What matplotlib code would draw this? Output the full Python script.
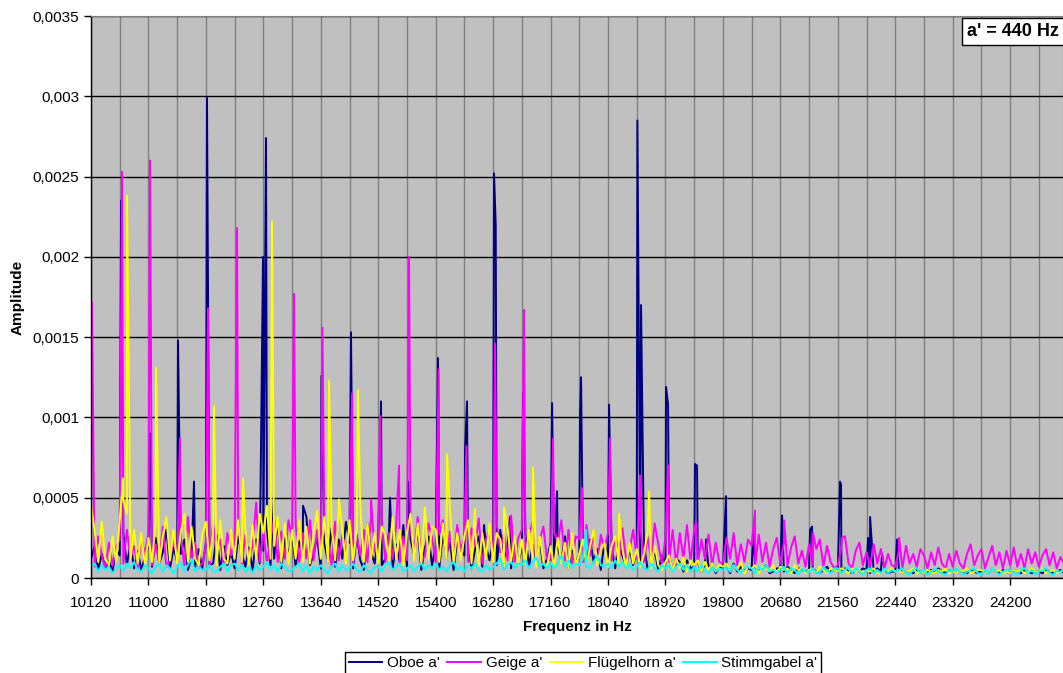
import matplotlib.pyplot as plt
import numpy as np

plt.rcParams['font.family'] = ['Liberation Sans', 'DejaVu Sans']

# spectrum samples: 55 Hz grid starting at 10120 Hz, amplitudes in 1e-5
f_start = 10120
f_step = 55

oboe_noise = [
    12, 20, 5, 15, 6, 11, 4, 18,    14, 28, 8, 22, 6, 17, 5, 13,
    20, 7, 25, 9, 16, 30, 6, 19,    10, 15, 24, 5, 13, 7, 18, 6,
    22, 8, 9, 27, 5, 20, 8, 16,     6, 26, 15, 7, 19, 5, 24, 9,
    17, 30, 8, 12, 36, 6, 25, 14,   28, 7, 23, 12, 38, 8, 15, 26,
    6, 22, 10, 31, 7, 24, 12, 35,   22, 6, 27, 11, 5, 34, 16, 9,
    25, 8, 12, 29, 6, 21, 10, 33,   7, 24, 14, 30, 5, 19, 26, 8,
    20, 6, 28, 15, 22, 5, 24, 17,   14, 21, 6, 18, 26, 7, 20, 11,
    23, 8, 30, 12, 19, 6, 25, 10,   18, 27, 7, 21, 11, 24, 6, 12,
    22, 8, 19, 10, 26, 6, 17, 9,    15, 20, 7, 24, 10, 18, 5, 22,
    12, 19, 6, 23, 14, 7, 18, 8,    16, 10, 21, 6, 8, 17, 5, 14,
    9, 14, 5, 12, 10, 4, 11, 6,     7, 10, 4, 8, 6, 9, 3, 7,
    6, 8, 3, 9, 4, 7, 5, 6,         5, 7, 4, 6, 8, 3, 4, 6,
    6, 4, 7, 5, 3, 6, 5, 4,         5, 6, 4, 3, 5, 7, 4, 5,
    4, 5, 6, 4, 3, 5, 4, 6,         5, 3, 4, 6, 4, 5, 3, 4,
    4, 6, 3, 5, 4, 3, 5, 4,         3, 4, 5, 3, 6, 4, 3, 5,
    4, 3, 5, 4, 3, 5, 4, 3,         5, 4, 3, 6, 4, 3, 5, 4,
    3, 5, 4, 3, 5, 4, 3, 4,         4, 3, 5, 4, 3, 4, 5, 3,
]
geige_noise = [
    18, 7, 26, 14, 6, 22, 8, 19,    24, 9, 30, 12, 20, 6, 25, 15,
    28, 8, 21, 10, 32, 7, 11, 24,   13, 26, 8, 38, 11, 22, 6, 9,
    20, 7, 34, 16, 24, 8, 28, 14,   22, 38, 9, 27, 12, 20, 47, 10,
    30, 9, 24, 37, 10, 29, 12, 36,  25, 33, 10, 28, 12, 36, 11, 30,
    12, 29, 24, 8, 35, 11, 27, 15,  32, 9, 26, 14, 30, 10, 38, 16,
    24, 35, 10, 28, 12, 33, 9, 26,  11, 30, 16, 38, 10, 14, 34, 25,
    10, 27, 36, 12, 29, 11, 33, 17, 26, 10, 31, 20, 37, 9, 24, 30,
    12, 34, 16, 28, 11, 39, 10, 25, 30, 12, 27, 35, 10, 24, 32, 12,
    10, 28, 22, 36, 11, 30, 9, 26,  24, 10, 33, 14, 29, 9, 27, 18,
    28, 11, 25, 9, 31, 12, 17, 30,  12, 32, 10, 26, 11, 34, 21, 9,
    25, 10, 30, 8, 28, 12, 33, 10,  30, 9, 24, 12, 27, 8, 22, 10,
    9, 25, 12, 28, 8, 21, 10, 24,   20, 8, 27, 10, 22, 7, 18, 25,
    9, 22, 8, 19, 26, 9, 17, 7,     21, 8, 18, 24, 7, 20, 10, 6,
    8, 19, 26, 9, 6, 17, 22, 8,     16, 7, 21, 9, 18, 6, 15, 8,
    7, 17, 6, 20, 9, 15, 7, 18,     14, 6, 16, 8, 19, 9, 6, 15,
    7, 17, 9, 6, 15, 21, 8, 14,     18, 6, 13, 20, 8, 16, 6, 17,
    8, 19, 7, 15, 6, 18, 9, 16,     7, 14, 18, 8, 16, 6, 13, 9,
]
horn_noise = [
    45, 30, 10, 35, 12, 8, 26, 10,  36, 48, 40, 12, 30, 9, 28, 8,
    25, 10, 34, 9, 26, 38, 11, 30,  9, 28, 40, 10, 32, 12, 8, 27,
    35, 11, 28, 8, 36, 12, 9, 30,   12, 36, 10, 30, 8, 33, 12, 40,
    28, 45, 12, 20, 38, 10, 34, 9,  30, 12, 36, 10, 32, 9, 28, 42,
    12, 38, 10, 32, 11, 42, 30, 9,  36, 11, 30, 44, 10, 34, 12, 28,
    9, 32, 26, 10, 38, 12, 30, 8,   28, 40, 11, 34, 9, 44, 12, 32,
    30, 10, 34, 12, 42, 9, 28, 11,  26, 36, 9, 30, 8, 28, 12, 34,
    10, 28, 24, 7, 32, 10, 26, 8,   24, 9, 30, 12, 7, 26, 10, 6,
    20, 7, 25, 9, 22, 6, 28, 8,     15, 24, 7, 20, 30, 8, 18, 22,
    7, 20, 26, 8, 18, 6, 22, 9,     18, 7, 15, 28, 6, 20, 8, 5,
    10, 14, 5, 12, 6, 13, 4, 11,    8, 11, 4, 10, 5, 9, 4, 8,
    7, 9, 4, 8, 5, 10, 3, 7,        6, 8, 3, 7, 6, 4, 8, 3,
    7, 5, 6, 3, 8, 5, 6, 3,         5, 6, 3, 7, 5, 3, 6, 5,
    4, 6, 5, 3, 6, 4, 5, 3,         5, 4, 6, 3, 3, 5, 4, 6,
    4, 5, 3, 5, 4, 6, 3, 4,         3, 5, 4, 3, 5, 4, 6, 3,
    4, 3, 5, 4, 6, 3, 4, 5,         5, 4, 3, 6, 4, 5, 3, 4,
    3, 5, 4, 5, 3, 4, 6, 4,         4, 6, 3, 4, 5, 3, 4, 5,
]
gabel_noise = [
    7, 9, 4, 8, 5, 7, 3, 6,     8, 4, 9, 6, 10, 5, 4, 8,
    6, 3, 7, 9, 4, 8, 6, 3,     7, 10, 4, 8, 12, 4, 7, 5,
    5, 8, 4, 4, 7, 9, 4, 8,     9, 5, 8, 4, 7, 3, 8, 5,
    7, 10, 5, 8, 4, 9, 7, 4,    5, 7, 9, 4, 8, 3, 7, 5,
    8, 5, 3, 7, 9, 4, 8, 5,     6, 9, 5, 4, 8, 5, 3, 7,
    7, 4, 8, 10, 5, 7, 9, 4,    6, 8, 4, 7, 9, 5, 8, 6,
    9, 5, 7, 4, 8, 10, 5, 7,    4, 8, 6, 9, 5, 4, 8, 5,
    7, 9, 12, 5, 8, 10, 6, 9,   8, 11, 6, 10, 13, 7, 9, 6,
    10, 6, 9, 14, 7, 11, 6, 9,  8, 12, 7, 6, 10, 14, 8, 7,
    9, 6, 11, 7, 10, 6, 9, 5,   7, 10, 6, 5, 9, 6, 4, 8,
    6, 8, 4, 7, 9, 5, 8, 4,     7, 4, 8, 5, 3, 7, 4, 6,
    5, 7, 4, 8, 5, 3, 6, 7,     6, 3, 7, 5, 8, 4, 5, 3,
    5, 7, 3, 6, 5, 2, 6, 4,     4, 6, 3, 3, 7, 4, 3, 6,
    6, 3, 5, 7, 3, 6, 4, 2,     5, 6, 3, 5, 3, 6, 3, 5,
    4, 5, 6, 3, 2, 5, 6, 3,     5, 2, 4, 6, 4, 3, 2, 5,
    4, 6, 4, 2, 4, 5, 6, 3,     2, 5, 3, 6, 4, 2, 4, 5,
    5, 3, 2, 5, 6, 3, 5, 2,     4, 5, 6, 3, 2, 5, 3, 6,
]

# harmonic peaks (Hz, amplitude in 1e-5)
oboe_peak_hz = [10580, 11024, 11453, 11698, 11897, 12755, 12801, 12924, 13368, 13650,
                14103, 14563, 14701, 14976, 15436, 15850, 15880, 16141, 16294, 16320,
                16539, 16738, 17183, 17259, 17611, 17627, 18056, 18490, 18546, 18929,
                18960, 19373, 19404, 19542, 19848, 20262, 20706, 21135, 21166, 21595,
                21610, 22024, 22055, 22238, 22468]
oboe_peak_amp = [235, 90, 148, 60, 299, 200, 274, 50, 45, 126,
                 153, 110, 50, 60, 137, 80, 110, 33, 252, 220,
                 38, 115, 109, 54, 100, 125, 108, 285, 170, 119,
                 108, 71, 70, 24, 51, 29, 39, 30, 32, 60,
                 58, 25, 38, 15, 24]
geige_peak_hz = [10135, 10595, 11024, 11483, 11912, 12357, 13230, 13665, 14119, 14410,
                 14547, 14839, 14992, 15445, 15870, 16309, 16754, 17198, 17642, 18071,
                 18531, 18960, 19389, 20292, 20737, 21181, 21625, 22499]
geige_peak_amp = [172, 253, 260, 87, 168, 218, 177, 156, 115, 49,
                  101, 70, 200, 130, 82, 146, 167, 87, 56, 87,
                  64, 70, 35, 42, 36, 28, 25, 25]
horn_peak_hz = [10610, 10672, 11116, 12004, 12449, 12893, 13766, 13919, 14210, 15574,
                16003, 16447, 16891, 18209, 18669]
horn_peak_amp = [62, 238, 131, 107, 62, 222, 123, 49, 117, 77,
                 43, 44, 69, 40, 54]
gabel_peak_hz = [17703]
gabel_peak_amp = [30]

series_names = ["Oboe a'", "Geige a'", "Flügelhorn a'", "Stimmgabel a'"]
series_colors = ["#000080", "#FF00FF", "#FFFF00", "#00FFFF"]

y_ticks = [0, 0.0005, 0.001, 0.0015, 0.002, 0.0025, 0.003, 0.0035]
y_tick_labels = ["0", "0,0005", "0,001", "0,0015", "0,002", "0,0025", "0,003", "0,0035"]
x_tick_labels = [10120, 11000, 11880, 12760, 13640, 14520, 15400, 16280, 17160,
                 18040, 18920, 19800, 20680, 21560, 22440, 23320, 24200]


def spectrum(noise, peak_hz, peak_amp):
    hz = np.concatenate([f_start + f_step * np.arange(len(noise)), peak_hz])
    amp = np.concatenate([noise, peak_amp]) * 1e-5
    order = np.argsort(hz, kind="stable")
    return hz[order], amp[order]


data = [
    spectrum(oboe_noise, oboe_peak_hz, oboe_peak_amp),
    spectrum(geige_noise, geige_peak_hz, geige_peak_amp),
    spectrum(horn_noise, horn_peak_hz, horn_peak_amp),
    spectrum(gabel_noise, gabel_peak_hz, gabel_peak_amp),
]

W, H = 1063, 673
fig = plt.figure(figsize=(W / 100, H / 100), dpi=100)
ax = fig.add_axes([91 / W, 1 - 578 / H, (1063 - 91) / W, (578 - 16) / H])
ax.set_facecolor("#C0C0C0")

for (hz, amp), name, col in zip(data, series_names, series_colors):
    ax.plot(hz, amp, color=col, lw=1.4, label=name)

ax.set_xlim(10120, 25010)
ax.set_ylim(0, 0.0035)
ax.set_yticks(y_ticks)
ax.set_yticklabels(y_tick_labels)
ax.set_xticks(x_tick_labels)
ax.set_xticklabels([str(v) for v in x_tick_labels])
ax.set_xticks(np.arange(10560, 25010, 880), minor=True)

ax.grid(True, axis="x", which="both", color="#808080", lw=1)
ax.grid(True, axis="y", which="major", color="#000000", lw=1)
ax.set_axisbelow(True)

ax.tick_params(axis="both", which="major", direction="out", length=5, width=1,
               labelsize=11, colors="black")
ax.tick_params(axis="x", which="major", pad=8)
ax.tick_params(axis="x", which="minor", length=0)
for side in ["left", "bottom"]:
    ax.spines[side].set_color("black")
    ax.spines[side].set_linewidth(1)
for side in ["top", "right"]:
    ax.spines[side].set_color("#808080")

ax.set_xlabel("Frequenz in Hz", fontsize=11, fontweight="bold", labelpad=7)
ax.set_ylabel("Amplitude", fontsize=11, fontweight="bold", labelpad=6)

fig.text(1059 / W, 1 - 31.5 / H, "a' = 440 Hz", ha="right", va="center",
         fontsize=13, fontweight="bold",
         bbox=dict(boxstyle="square,pad=0.3", facecolor="white", edgecolor="black", lw=1))

leg = fig.legend(loc="center", bbox_to_anchor=(583 / W, 1 - 663 / H), ncol=4,
                 fontsize=11, frameon=True, fancybox=False, edgecolor="black",
                 framealpha=1, handlelength=2.2, handletextpad=0.3,
                 columnspacing=0.5, borderpad=0.25)
leg.get_frame().set_linewidth(1)

fig.savefig("out.png", dpi=100)
